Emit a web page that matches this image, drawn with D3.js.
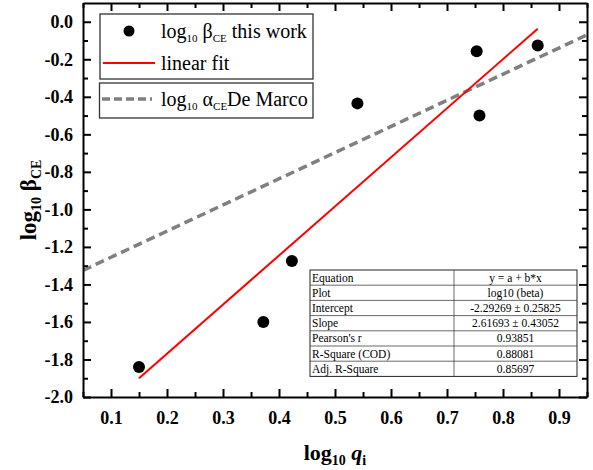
<!DOCTYPE html>
<html>
<head>
<meta charset="utf-8">
<script src="https://cdn.jsdelivr.net/npm/d3@7.9.0/dist/d3.min.js"></script>
<style>
  body { margin: 0; background: #fff; }
  svg { display: block; font-family: "Liberation Serif", "Times New Roman", serif; }
</style>
</head>
<body>
<div id="chart"></div>
<script>
// measured points: log10 q_i vs log10 beta_CE
const qLog = [0.15, 0.372, 0.423, 0.54, 0.753, 0.758, 0.862];
const betaLog = [-1.84, -1.60, -1.275, -0.435, -0.157, -0.50, -0.126];

// linear fit coefficients (from the table)
const fitIntercept = -2.29269;
const fitSlope = 2.61693;
const fitRange = [0.15, 0.862];

// De Marco relation
const deMarcoX = [0.05, 0.95];
const deMarcoY = [-1.325, -0.07];

const xTicks = [0.1, 0.2, 0.3, 0.4, 0.5, 0.6, 0.7, 0.8, 0.9];
const yTicks = [0.0, -0.2, -0.4, -0.6, -0.8, -1.0, -1.2, -1.4, -1.6, -1.8, -2.0];

const tableLabels = ["Equation", "Plot", "Intercept", "Slope", "Pearson's r", "R-Square (COD)", "Adj. R-Square"];
const tableValues = ["y = a + b*x", "log10 (beta)", "-2.29269 \u00b1 0.25825", "2.61693 \u00b1 0.43052", "0.93851", "0.88081", "0.85697"];

const width = 593, height = 470;
const margin = { top: 3, right: 6, bottom: 73, left: 83 };

const svg = d3.select('#chart').append('svg')
  .attr('width', width)
  .attr('height', height);

const x = d3.scaleLinear().domain([0.05, 0.95]).range([margin.left, width - margin.right]);
const y = d3.scaleLinear().domain([-2.0, 0.1]).range([height - margin.bottom, margin.top]);

const fmt = d => d3.format('.1f')(d).replace('\u2212', '-');

// clip for lines
svg.append('clipPath').attr('id', 'plot-clip')
  .append('rect')
  .attr('x', x.range()[0]).attr('y', y.range()[1])
  .attr('width', x.range()[1] - x.range()[0])
  .attr('height', y.range()[0] - y.range()[1]);

const plot = svg.append('g').attr('clip-path', 'url(#plot-clip)');

// De Marco dashed line
plot.append('path')
  .datum(d3.zip(deMarcoX, deMarcoY))
  .attr('d', d3.line().x(d => x(d[0])).y(d => y(d[1])))
  .attr('fill', 'none')
  .attr('stroke', '#808080')
  .attr('stroke-width', 3.5)
  .attr('stroke-dasharray', '9,5');

// linear fit
plot.append('path')
  .datum(fitRange.map(v => [v, fitIntercept + fitSlope * v]))
  .attr('d', d3.line().x(d => x(d[0])).y(d => y(d[1])))
  .attr('fill', 'none')
  .attr('stroke', '#ff0000')
  .attr('stroke-width', 2);

// points
plot.append('g').selectAll('circle')
  .data(d3.zip(qLog, betaLog))
  .join('circle')
  .attr('cx', d => x(d[0]))
  .attr('cy', d => y(d[1]))
  .attr('r', 6)
  .attr('fill', '#000');

// axes - ticks pointing inward on all sides
const minorX = d3.range(0.05, 0.96, 0.05).filter(v => Math.abs(v * 10 - Math.round(v * 10)) > 0.01);
const minorY = d3.range(-1.9, 0.1, 0.2);

function styleAxis(g) {
  g.attr('font-family', null).attr('font-size', null);
  g.selectAll('path, line').attr('stroke', '#000').attr('stroke-width', 2);
  g.selectAll('text')
    .style('font-family', '"Liberation Serif", serif')
    .style('font-size', '18px')
    .style('font-weight', 'bold')
    .attr('fill', '#000');
}

// bottom
svg.append('g')
  .attr('transform', `translate(0,${y.range()[0]})`)
  .call(d3.axisBottom(x).tickValues(xTicks).tickFormat(fmt).tickSizeInner(-8).tickSizeOuter(0).tickPadding(14))
  .call(styleAxis);
svg.append('g')
  .attr('transform', `translate(0,${y.range()[0]})`)
  .call(d3.axisBottom(x).tickValues(minorX).tickFormat('').tickSizeInner(-5).tickSizeOuter(0))
  .call(g => g.select('.domain').remove())
  .call(styleAxis);

// top
svg.append('g')
  .attr('transform', `translate(0,${y.range()[1]})`)
  .call(d3.axisTop(x).tickValues(xTicks).tickFormat('').tickSizeInner(-8).tickSizeOuter(0))
  .call(styleAxis);
svg.append('g')
  .attr('transform', `translate(0,${y.range()[1]})`)
  .call(d3.axisTop(x).tickValues(minorX).tickFormat('').tickSizeInner(-5).tickSizeOuter(0))
  .call(g => g.select('.domain').remove())
  .call(styleAxis);

// left
svg.append('g')
  .attr('transform', `translate(${x.range()[0]},0)`)
  .call(d3.axisLeft(y).tickValues(yTicks).tickFormat(fmt).tickSizeInner(-8).tickSizeOuter(0).tickPadding(10))
  .call(styleAxis);
svg.append('g')
  .attr('transform', `translate(${x.range()[0]},0)`)
  .call(d3.axisLeft(y).tickValues(minorY).tickFormat('').tickSizeInner(-5).tickSizeOuter(0))
  .call(g => g.select('.domain').remove())
  .call(styleAxis);

// right
svg.append('g')
  .attr('transform', `translate(${x.range()[1]},0)`)
  .call(d3.axisRight(y).tickValues(yTicks).tickFormat('').tickSizeInner(-8).tickSizeOuter(0))
  .call(styleAxis);
svg.append('g')
  .attr('transform', `translate(${x.range()[1]},0)`)
  .call(d3.axisRight(y).tickValues(minorY).tickFormat('').tickSizeInner(-5).tickSizeOuter(0))
  .call(g => g.select('.domain').remove())
  .call(styleAxis);

// axis titles
const xTitle = svg.append('text')
  .attr('x', (x.range()[0] + x.range()[1]) / 2)
  .attr('y', 460)
  .attr('text-anchor', 'middle')
  .attr('font-size', 22)
  .attr('font-weight', 'bold');
xTitle.append('tspan').text('log');
xTitle.append('tspan').attr('font-size', 14).attr('dy', 5).text('10');
xTitle.append('tspan').attr('dy', -5).text(' ');
xTitle.append('tspan').attr('font-style', 'italic').text('q');
xTitle.append('tspan').attr('font-size', 14).attr('dy', 5).text('i');

const yTitle = svg.append('text')
  .attr('transform', `translate(36,${(y.range()[0] + y.range()[1]) / 2}) rotate(-90)`)
  .attr('text-anchor', 'middle')
  .attr('font-size', 23)
  .attr('font-weight', 'bold');
yTitle.append('tspan').text('log');
yTitle.append('tspan').attr('font-size', 14).attr('dy', 5).text('10');
yTitle.append('tspan').attr('dy', -5).text(' \u03b2');
yTitle.append('tspan').attr('font-size', 14).attr('dy', 5).text('CE');

// legend
const legend = svg.append('g');
legend.append('rect')
  .attr('x', 100).attr('y', 14).attr('width', 213).attr('height', 65)
  .attr('fill', '#fff').attr('stroke', '#333').attr('stroke-width', 1.3);
legend.append('rect')
  .attr('x', 99.5).attr('y', 83).attr('width', 213.5).attr('height', 35)
  .attr('fill', '#fff').attr('stroke', '#333').attr('stroke-width', 1.3);

legend.append('circle').attr('cx', 129).attr('cy', 31).attr('r', 5.5).attr('fill', '#000');
legend.append('line').attr('x1', 103).attr('x2', 155).attr('y1', 63).attr('y2', 63)
  .attr('stroke', '#ff0000').attr('stroke-width', 2);
legend.append('line').attr('x1', 102).attr('x2', 152).attr('y1', 99).attr('y2', 99)
  .attr('stroke', '#808080').attr('stroke-width', 3.5).attr('stroke-dasharray', '8,4');

function legendText(yPos, parts) {
  const t = legend.append('text').attr('x', 161).attr('y', yPos).attr('font-size', 20);
  parts.forEach(p => {
    const s = t.append('tspan').text(p.text);
    if (p.sub) s.attr('font-size', 11).attr('dy', 4);
    if (p.up) s.attr('dy', -4);
  });
}
legendText(38, [{ text: 'log' }, { text: '10', sub: true }, { text: ' \u03b2', up: true }, { text: 'CE', sub: true }, { text: ' this work', up: true }]);
legendText(70, [{ text: 'linear fit' }]);
legendText(106, [{ text: 'log' }, { text: '10', sub: true }, { text: ' \u03b1', up: true }, { text: 'CE', sub: true }, { text: 'De Marco', up: true }]);

// fit table
const tbl = { x: 310, y: 270, w: 267, rowH: 15.2, split: 454 };
const tg = svg.append('g');
tg.append('rect')
  .attr('x', tbl.x).attr('y', tbl.y)
  .attr('width', tbl.w).attr('height', tbl.rowH * tableLabels.length)
  .attr('fill', '#fff').attr('stroke', '#222').attr('stroke-width', 1);
tableLabels.forEach((lab, i) => {
  const ry = tbl.y + i * tbl.rowH;
  if (i > 0) {
    tg.append('line').attr('x1', tbl.x).attr('x2', tbl.x + tbl.w).attr('y1', ry).attr('y2', ry)
      .attr('stroke', '#444').attr('stroke-width', 0.8);
  }
  tg.append('text').attr('x', tbl.x + 2).attr('y', ry + 11.5)
    .attr('font-size', 11.5).text(lab);
  tg.append('text').attr('x', (tbl.split + tbl.x + tbl.w) / 2).attr('y', ry + 11.5)
    .attr('text-anchor', 'middle').attr('font-size', 11.5).text(tableValues[i]);
});
tg.append('line').attr('x1', tbl.split).attr('x2', tbl.split)
  .attr('y1', tbl.y).attr('y2', tbl.y + tbl.rowH * tableLabels.length)
  .attr('stroke', '#444').attr('stroke-width', 0.8);
</script>
</body>
</html>
